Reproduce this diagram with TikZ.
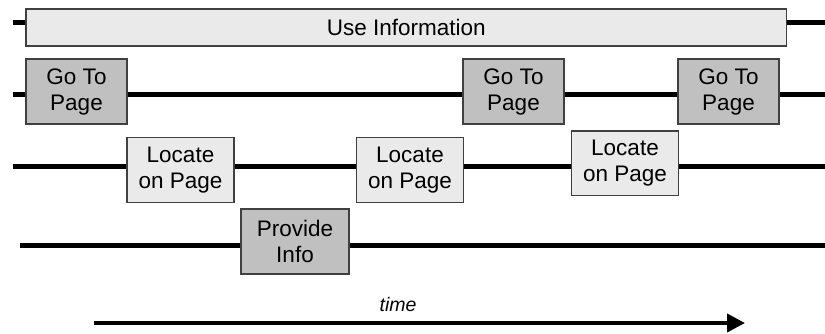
\documentclass[tikz,border=0pt]{standalone}
\usepackage{fontspec}
\setmainfont{Liberation Sans}
\usetikzlibrary{arrows.meta}
\definecolor{lightbox}{HTML}{EAEAEA}
\definecolor{darkbox}{HTML}{C0C0C0}
\definecolor{boxline}{HTML}{404040}
\tikzset{
  task/.style={draw=boxline, line width=1.2pt, inner sep=0pt, align=center,
    font=\fontsize{22.5}{26}\selectfont},
  lighttask/.style={task, fill=lightbox},
  darktask/.style={task, fill=darkbox},
  track/.style={line width=5pt, black},
  timeaxis/.style={line width=4pt, black, -{Triangle[length=18pt,width=18pt]}}
}
\begin{document}
\begin{tikzpicture}[x=1pt, y=-1pt]
  \useasboundingbox (0,0) rectangle (825,334);

  % track 1: whole activity
  \coordinate (t1a) at (12.5,23);
  \coordinate (t1b) at (825,23);
  % track 2
  \coordinate (t2a) at (12.5,95);
  \coordinate (t2b) at (825,95);
  % track 3
  \coordinate (t3a) at (12.5,167);
  \coordinate (t3b) at (825,167);
  % track 4
  \coordinate (t4a) at (20,245);
  \coordinate (t4b) at (825,245);

  % tracks (drawn first so the boxes sit on top)
  \draw[track] (t1a) -- (t1b);
  \draw[track] (t2a) -- (t2b);
  \draw[track] (t3a) -- (t3b);
  \draw[track] (t4a) -- (t4b);

  % activities
  \node[lighttask, minimum width=760.7pt, minimum height=37pt] (use) at (406.3,27.5) {Use Information};

  \node[darktask, minimum width=101pt, minimum height=65pt] (go1) at (76.5,91.5) {Go To\\Page};
  \node[darktask, minimum width=101pt, minimum height=65pt] (go2) at (513.5,91.5) {Go To\\Page};
  \node[darktask, minimum width=101pt, minimum height=65pt] (go3) at (728.5,91.5) {Go To\\Page};

  \node[lighttask, minimum width=107pt, minimum height=64.5pt] (loc1) at (180.5,170) {Locate\\on Page};
  \node[lighttask, minimum width=107pt, minimum height=64.5pt] (loc2) at (410,170) {Locate\\on Page};
  \node[lighttask, minimum width=107pt, minimum height=64.5pt] (loc3) at (625,163.2) {Locate\\on Page};

  \node[darktask, minimum width=108pt, minimum height=65pt] (prov) at (295,241.5) {Provide\\Info};

  % time axis
  \coordinate (ta) at (94,323);
  \coordinate (tb) at (745,323);
  \draw[timeaxis] (ta) -- (tb);
  \node[font=\fontsize{19.5}{22}\selectfont\itshape] (timelbl) at (398,305) {time};
\end{tikzpicture}
\end{document}
